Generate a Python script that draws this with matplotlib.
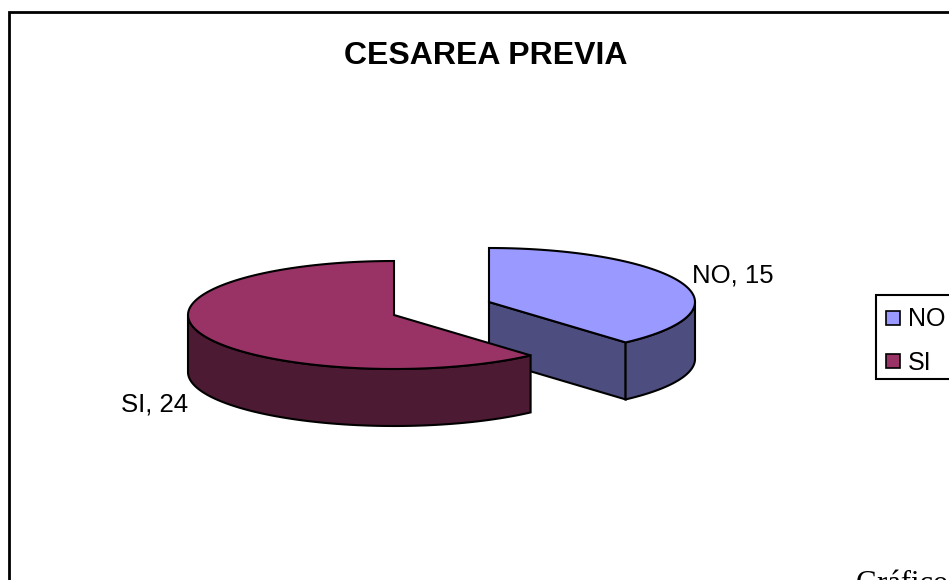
import numpy as np
import matplotlib
matplotlib.use("Agg")
import matplotlib.pyplot as plt
from matplotlib.patches import Rectangle

labels = ["NO", "SI"]
values = [15, 24]
top_colors = ["#9999FF", "#993366"]
side_colors = ["#4D4D80", "#4D1A33"]

rx = 206
ry = 54
depth = 57
centers = [(489, 302), (394, 315)]

plt.rcParams['font.family'] = ['Liberation Sans', 'DejaVu Sans']

fig = plt.figure(figsize=(9.49, 5.80), dpi=100)
ax = fig.add_axes([0, 0, 1, 1])
ax.set_xlim(0, 949)
ax.set_ylim(580, 0)
ax.axis('off')


def arc(cx, cy, a0, a1):
    # angles clockwise from 12 o'clock, squashed for the 3D look
    t = np.radians(np.linspace(a0, a1, 120))
    return cx + rx * np.sin(t), cy - ry * np.cos(t)


def draw_slice(cx, cy, a0, a1, top, side, rim0, rim1, front_cut):
    if front_cut:
        ex, ey = arc(cx, cy, a1, a1)
        ax.fill([cx, ex[0], ex[0], cx], [cy, ey[0], ey[0] + depth, cy + depth],
                facecolor=side, edgecolor='black', linewidth=1.5)
    x, y = arc(cx, cy, rim0, rim1)
    ax.fill(np.r_[x, x[::-1]], np.r_[y, y[::-1] + depth],
            facecolor=side, edgecolor='black', linewidth=1.5)
    x, y = arc(cx, cy, a0, a1)
    ax.fill(np.r_[cx, x], np.r_[cy, y],
            facecolor=top, edgecolor='black', linewidth=1.5)


total = sum(values)
split = 360 * values[0] / total

ax.add_patch(Rectangle((9, 12), 1000, 640, facecolor='white', edgecolor='black', linewidth=2))

# NO first, SI overlaps it at the front
draw_slice(*centers[0], 0, split, top_colors[0], side_colors[0], 90, split, True)
draw_slice(*centers[1], split, 360, top_colors[1], side_colors[1], split, 270, False)

ax.text(485.5, 56, "CESAREA PREVIA", ha='center', va='center', fontsize=23, fontweight='bold')
ax.text(692, 275.5, f"{labels[0]}, {values[0]}", ha='left', va='center', fontsize=18.5)
ax.text(121, 404.5, f"{labels[1]}, {values[1]}", ha='left', va='center', fontsize=18.5)

# legend box runs off the right edge
ax.add_patch(Rectangle((876, 295), 100, 84, facecolor='white', edgecolor='black', linewidth=1.5))
for i, name in enumerate(labels):
    ypos = 318 + i * 43
    ax.add_patch(Rectangle((886, ypos - 7), 14, 14, facecolor=top_colors[i], edgecolor='black', linewidth=1.2))
    ax.text(908, ypos + 1.5, name, ha='left', va='center', fontsize=18)

ax.text(856, 592, "Gráfico", ha='left', va='baseline', fontsize=22, family=['Liberation Serif'])

fig.savefig("out.png", dpi=100)
